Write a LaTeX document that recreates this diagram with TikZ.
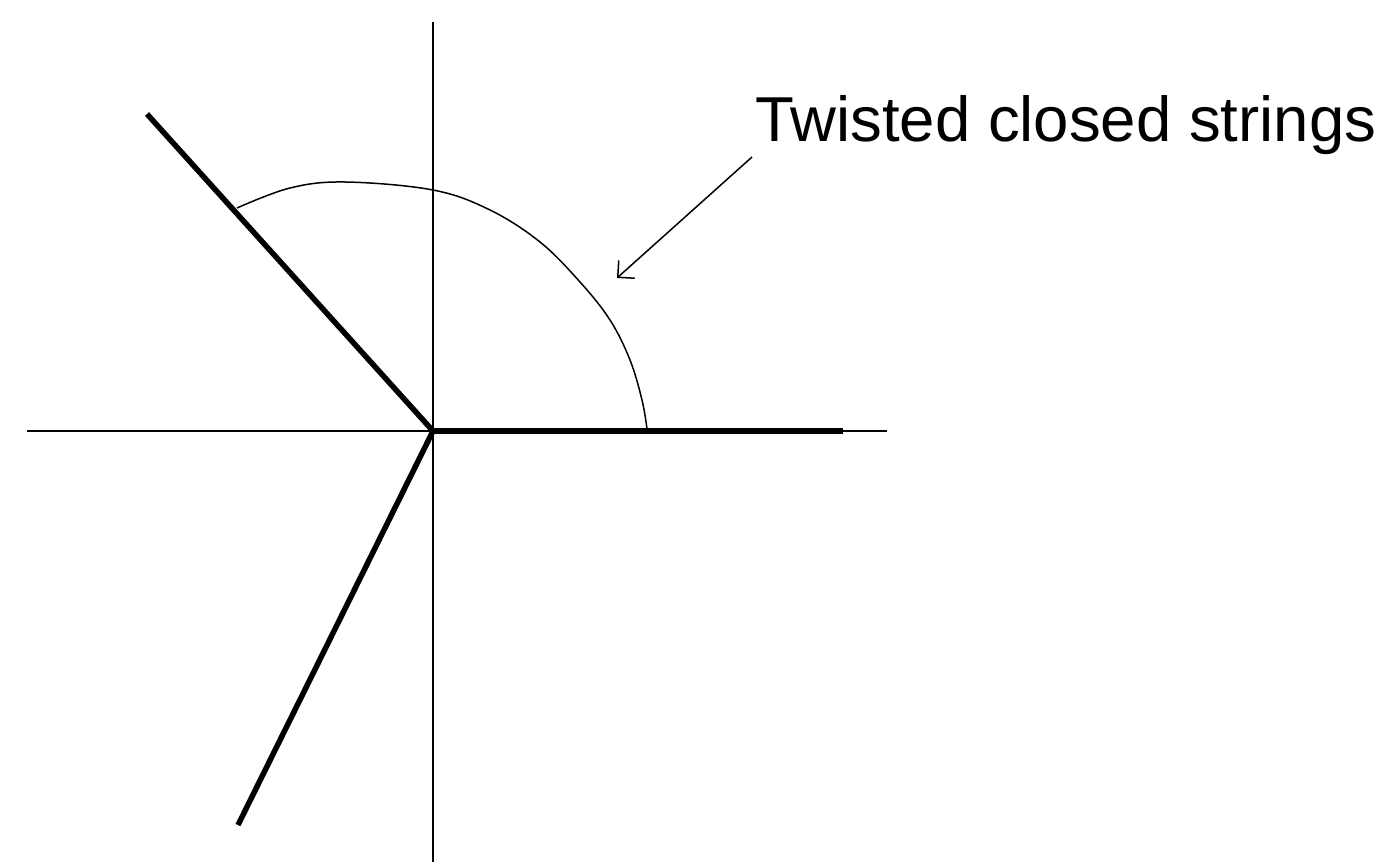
\documentclass[tikz,border=0pt]{standalone}
\usepackage{fontspec}
\setmainfont{Liberation Sans}
\usetikzlibrary{arrows.meta}
\begin{document}
\begin{tikzpicture}[x=1pt,y=-1pt,
  axis/.style={line width=1.5pt},
  brane/.style={line width=5.5pt},
  thinline/.style={line width=1.5pt},
  lbl/.style={font=\fontsize{63.5}{70}\selectfont, inner sep=0pt, anchor=base west}]
\useasboundingbox (0,0) rectangle (1388,864);
\coordinate (O) at (433,431);
\coordinate (top) at (433,22);
\coordinate (bot) at (433,862);
\coordinate (left) at (27,431);
\coordinate (right) at (887,431);
\coordinate (b1) at (843,431);
\coordinate (b2) at (147,114);
\coordinate (b3) at (238,825);
\draw[axis] (top) -- (bot);
\draw[axis] (left) -- (right);
\draw[brane,line cap=butt] (O) -- (b1);
\draw[brane] (O) -- (b2);
\draw[brane] (O) -- (b3);
\draw[thinline] plot[smooth,tension=0.6] coordinates {(237,208) (290,188) (345,182) (433,190) (490,210) (540,242) (580,282) (610,320) (630,360) (642,400) (647,429)};
\node[lbl] (t) at (755,141) {Twisted closed strings};
\coordinate (as) at (752,157);
\coordinate (ae) at (617,278);
\draw[thinline,-{Straight Barb[length=12pt,width=24pt,line width=1.5pt]}] (as) -- (ae);
\end{tikzpicture}
\end{document}
